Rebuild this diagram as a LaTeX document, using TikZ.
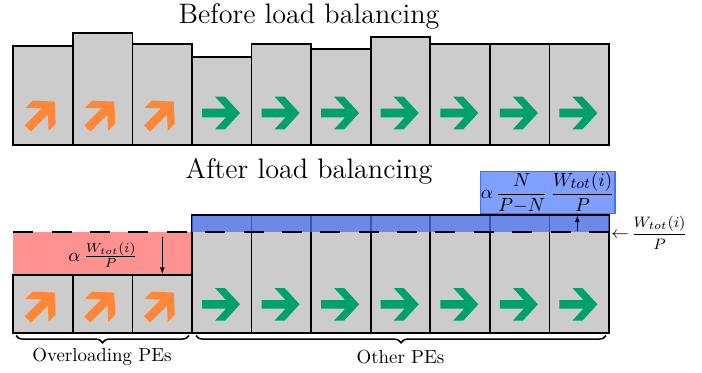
\documentclass[tikz,border=0pt]{standalone}
\usepackage{amsmath}
\usetikzlibrary{decorations.pathreplacing,arrows.meta}
\definecolor{peGray}{RGB}{204,204,204}
\definecolor{peGreen}{RGB}{0,160,106}
\definecolor{peOrange}{RGB}{255,135,55}
\definecolor{peRed}{RGB}{255,145,145}
\definecolor{peBand}{RGB}{75,115,240}
\definecolor{peLabFill}{RGB}{128,160,255}
\definecolor{peLabDraw}{RGB}{70,110,250}
\tikzset{
  pebox/.style={fill=peGray, draw=black, line width=0.9pt},
  garrow/.pic={\fill[peGreen] (-19,-4.3) -- (5,-4.3) -- (-6,-16.3) -- (4,-16.3) -- (19,0) -- (4,16.3) -- (-6,16.3) -- (5,4.3) -- (-19,4.3) -- cycle;},
  oarrow/.pic={\fill[peOrange, rotate=45] (-19,-4.3) -- (5,-4.3) -- (-6,-16.3) -- (4,-16.3) -- (19,0) -- (4,16.3) -- (-6,16.3) -- (5,4.3) -- (-19,4.3) -- cycle;},
  dashline/.style={line width=1pt, dash pattern=on 10.6pt off 9.7pt},
  thinarrow/.style={line width=0.5pt, -{Latex[length=3.5pt,width=2.6pt]}},
  bracestyle/.style={decorate, decoration={brace, mirror, amplitude=3.8pt}, line width=0.8pt},
  title/.style={font=\fontsize{14.9}{18}\selectfont, inner sep=0pt},
  grouplabel/.style={font=\normalsize, inner sep=0pt}
}
\begin{document}
\begin{tikzpicture}[x=0.529pt, y=-0.529pt]
\useasboundingbox (0,0) rectangle (702,372);

% ---------- Before load balancing ----------
\node[title] (t1) at (309,16) {Before load balancing};
\foreach \t [count=\i from 0] in {45.7,32.7,44.3,56.7,44.3,49.3,37.3,44.3,44.3,44.3} {
  \draw[pebox] ({13.3+59.57*\i},145) rectangle ({13.3+59.57*(\i+1)},\t);
}
\foreach \i in {0,1,2} { \pic at ({13.3+59.57*\i+28},115) {oarrow}; }
\foreach \i in {3,...,9} { \pic at ({13.3+59.57*\i+29},113) {garrow}; }

% ---------- After load balancing ----------
\node[title] (t2) at (309,171) {After load balancing};
\fill[peRed] (13.3,232.3) rectangle (192.4,275.3);
\foreach \i in {0,1,2} {
  \draw[pebox] ({13.3+59.57*\i},332.7) rectangle ({13.3+59.57*(\i+1)},275.3);
  \pic at ({13.3+59.57*\i+28},306) {oarrow};
}
\foreach \i in {3,...,9} {
  \draw[pebox] ({13.3+59.57*\i},332.7) rectangle ({13.3+59.57*(\i+1)},215);
  \pic at ({13.3+59.57*\i+29},304.3) {garrow};
}
\fill[peBand, opacity=0.75] (192.4,215.6) rectangle (609,231.6);
\draw[dashline] (13.3,232.3) -- (609,232.3);

% overload arrow and label
\coordinate (ra1) at (162.3,236.5);
\coordinate (ra2) at (162.3,274);
\draw[thinarrow] (ra1) -- (ra2);
\node (rl) at (103,255) {$\alpha\,\frac{W_{tot}(i)}{P}$};

% extra load label
\node[fill=peLabFill, draw=peLabDraw, line width=0.6pt, inner sep=0.3pt,
      minimum width=123*0.529pt, minimum height=33*0.529pt] (bl) at (547.6,192.6)
  {$\displaystyle\alpha\,\frac{N}{P{-}N}\,\frac{W_{\text{\footnotesize$tot$}}(i)}{P}$};
\coordinate (ba1) at (577.3,231);
\coordinate (ba2) at (577.3,215.5);
\draw[thinarrow] (ba1) -- (ba2);

% average line label
\node[anchor=west, inner sep=0pt, font=\footnotesize] (avg) at (611,233)
  {{\small$\leftarrow$}\,$\dfrac{W_{tot}(i)}{P}$};

% braces
\coordinate (b1a) at (16,335.5);
\coordinate (b1b) at (189,335.5);
\coordinate (b2a) at (196,335.5);
\coordinate (b2b) at (606,335.5);
\draw[bracestyle] (b1a) -- (b1b);
\draw[bracestyle] (b2a) -- (b2b);
\node[grouplabel] (g1) at (102,357) {Overloading PEs};
\node[grouplabel] (g2) at (400.5,357) {Other PEs};
\end{tikzpicture}
\end{document}
